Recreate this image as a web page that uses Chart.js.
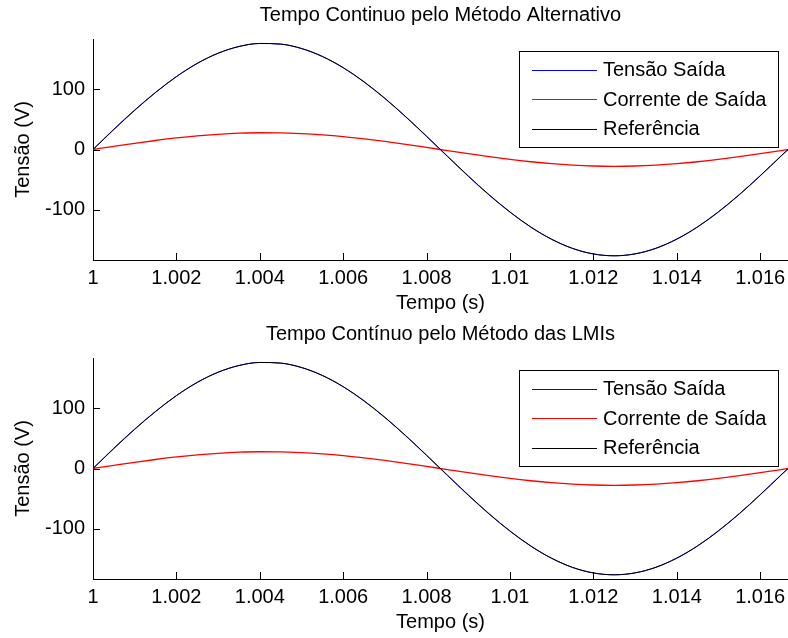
<!DOCTYPE html>
<html lang="pt">
<head>
<meta charset="UTF-8">
<title>Tempo Contínuo</title>
<script src="https://cdn.jsdelivr.net/npm/chart.js"></script>
<style>
    body { margin: 0; background: #fff; }
    #quadro { position: relative; width: 788px; height: 638px; }
    canvas { position: absolute; left: 0; }
    #graficoAlt { top: 0; }
    #graficoLmi { top: 319px; }
</style>
</head>
<body>
<div id="quadro">
    <canvas id="graficoAlt" width="788" height="319"></canvas>
    <canvas id="graficoLmi" width="788" height="319"></canvas>
</div>

<script>
    // tempo (s) - um periodo de 60 Hz
    var tempo = [1.0000, 1.0005, 1.0010, 1.0015, 1.0020, 1.0025, 1.0030, 1.0035, 1.0040, 1.0045,
        1.0050, 1.0055, 1.0060, 1.0065, 1.0070, 1.0075, 1.0080, 1.0085, 1.0090, 1.0095,
        1.0100, 1.0105, 1.0110, 1.0115, 1.0120, 1.0125, 1.0130, 1.0135, 1.0140, 1.0145,
        1.0150, 1.0155, 1.0160, 1.0165, 1.016667];

    var referencia = [0, 33.2, 65.2, 94.8, 121.2, 143.2, 160.2, 171.4, 176.6, 175.6,
        168.3, 155.1, 136.4, 112.8, 85.3, 54.7, 22.2, -11.1, -44.0, -75.4,
        -104.0, -129.0, -149.4, -164.6, -173.9, -177.0, -173.9, -164.6, -149.4, -129.0,
        -104.0, -75.4, -44.0, -11.1, 0];

    var tensaoSaida = [0, 33.9, 65.8, 95.2, 121.5, 143.6, 160.4, 171.6, 176.5, 175.4,
        168.0, 154.7, 136.0, 112.3, 84.8, 54.2, 21.6, -11.7, -44.6, -75.9,
        -104.4, -129.4, -149.7, -164.8, -174.0, -177.0, -173.7, -164.3, -149.0, -128.6,
        -103.5, -74.9, -43.5, -10.6, 0];

    var correnteSaida = [0, 5.2, 10.3, 15.0, 19.2, 22.7, 25.3, 27.1, 27.9, 27.8,
        26.6, 24.5, 21.6, 17.8, 13.5, 8.7, 3.5, -1.8, -7.0, -11.9,
        -16.5, -20.4, -23.6, -26.0, -27.5, -28.0, -27.5, -26.0, -23.6, -20.4,
        -16.5, -11.9, -7.0, -1.8, 0];

    var ticksX = [1, 1.002, 1.004, 1.006, 1.008, 1.01, 1.012, 1.014, 1.016];
    var ticksY = [-100, 0, 100];

    var fonte = "'Liberation Sans', Arial, sans-serif";

    function pontos(valores) {
        var lista = [];
        for (var i = 0; i < tempo.length; i++) {
            lista.push({ x: tempo[i], y: valores[i] });
        }
        return lista;
    }

    // ticks para dentro e legenda em caixa, estilo matlab
    var estiloMatlab = {
        id: 'estiloMatlab',
        afterDraw: function (chart) {
            var ctx = chart.ctx;
            var area = chart.chartArea;
            var sx = chart.scales.x;
            var sy = chart.scales.y;
            ctx.save();
            ctx.strokeStyle = '#000';
            ctx.lineWidth = 1;
            ctx.beginPath();
            ticksX.forEach(function (v) {
                var px = Math.round(sx.getPixelForValue(v)) + 0.5;
                ctx.moveTo(px, area.bottom);
                ctx.lineTo(px, area.bottom - 7);
            });
            ticksY.forEach(function (v) {
                var py = Math.round(sy.getPixelForValue(v)) + 0.5;
                ctx.moveTo(area.left, py);
                ctx.lineTo(area.left + 7, py);
            });
            ctx.stroke();

            // legenda
            var x0 = 519.5, y0 = 51.5, w = 259, h = 96;
            ctx.fillStyle = '#fff';
            ctx.fillRect(x0, y0, w, h);
            ctx.strokeStyle = '#000';
            ctx.strokeRect(x0, y0, w, h);
            ctx.font = '20px ' + fonte;
            ctx.textBaseline = 'middle';
            chart.data.datasets.forEach(function (ds, i) {
                var yy = 69.5 + i * 29.5;
                ctx.fillStyle = ds.borderColor;
                ctx.fillRect(532, Math.round(yy), 65, 1);
                ctx.fillStyle = '#000';
                ctx.fillText(ds.label, 603, yy + 1);
            });
            ctx.restore();
        }
    };

    function montarGrafico(idCanvas, titulo) {
        var config = {
            type: 'line',
            data: {
                datasets: [{
                    label: 'Tensão Saída',
                    data: pontos(tensaoSaida),
                    borderColor: '#0000ff',
                    borderWidth: 1,
                    pointRadius: 0,
                    cubicInterpolationMode: 'monotone',
                    order: 3
                }, {
                    label: 'Corrente de Saída',
                    data: pontos(correnteSaida),
                    borderColor: '#ff0000',
                    borderWidth: 1.3,
                    pointRadius: 0,
                    cubicInterpolationMode: 'monotone',
                    order: 2
                }, {
                    label: 'Referência',
                    data: pontos(referencia),
                    borderColor: '#000000',
                    borderWidth: 1,
                    pointRadius: 0,
                    cubicInterpolationMode: 'monotone',
                    order: 1
                }]
            },
            options: {
                responsive: false,
                animation: false,
                devicePixelRatio: 1,
                layout: { padding: 0 },
                plugins: {
                    legend: { display: false },
                    tooltip: { enabled: false },
                    title: {
                        display: true,
                        text: titulo,
                        fullSize: false,
                        color: '#000',
                        font: { family: fonte, size: 20, weight: 'normal', lineHeight: 1.2 },
                        padding: { top: 3.5, bottom: 11.5 }
                    }
                },
                scales: {
                    x: {
                        type: 'linear',
                        min: 1,
                        max: 1.016667,
                        afterBuildTicks: function (scale) {
                            scale.ticks = ticksX.map(function (v) { return { value: v }; });
                        },
                        afterFit: function (scale) {
                            scale.height = 59;
                            scale.paddingLeft = 0;
                            scale.paddingRight = 0;
                        },
                        grid: { display: false, drawTicks: false },
                        border: { display: true, color: '#000', width: 1 },
                        ticks: {
                            color: '#000',
                            padding: 6,
                            maxRotation: 0,
                            autoSkip: false,
                            font: { family: fonte, size: 20 },
                            callback: function (v) { return String(v); }
                        },
                        title: {
                            display: true,
                            text: 'Tempo (s)',
                            color: '#000',
                            font: { family: fonte, size: 20, lineHeight: 1.2 },
                            padding: { top: 0, bottom: 4 }
                        }
                    },
                    y: {
                        min: -184,
                        max: 184,
                        afterBuildTicks: function (scale) {
                            scale.ticks = ticksY.map(function (v) { return { value: v }; });
                        },
                        afterFit: function (scale) {
                            scale.width = 93;
                            scale.paddingTop = 0;
                            scale.paddingBottom = 0;
                        },
                        grid: { display: false, drawTicks: false },
                        border: { display: true, color: '#000', width: 1 },
                        ticks: {
                            color: '#000',
                            padding: 8,
                            font: { family: fonte, size: 20 },
                            callback: function (v) { return String(v); }
                        },
                        title: {
                            display: true,
                            text: 'Tensão (V)',
                            color: '#000',
                            font: { family: fonte, size: 20, lineHeight: 1.2 },
                            padding: { top: 11, bottom: 0 }
                        }
                    }
                }
            },
            plugins: [estiloMatlab]
        };
        return new Chart(document.getElementById(idCanvas), config);
    }

    montarGrafico('graficoAlt', 'Tempo Continuo pelo Método Alternativo');
    montarGrafico('graficoLmi', 'Tempo Contínuo pelo Método das LMIs');
</script>
</body>
</html>
